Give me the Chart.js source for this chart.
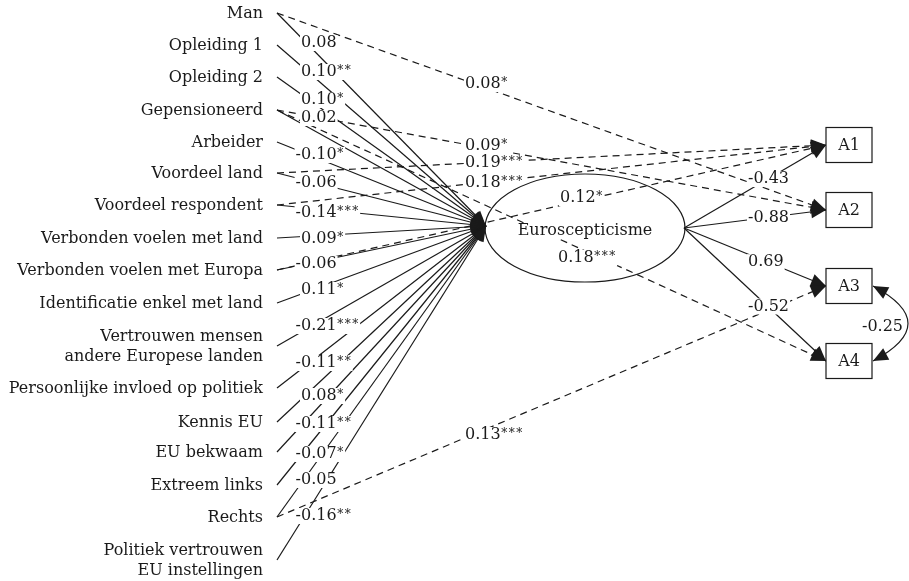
<!DOCTYPE html>
<html>
<head>
<meta charset="utf-8">
<script src="https://cdn.jsdelivr.net/npm/chart.js@4.4.1/dist/chart.umd.min.js"></script>
<style>html,body{margin:0;padding:0;background:#fff}</style>
</head>
<body>
<canvas id="c" width="909" height="581"></canvas>
<script>
// predictors -> Euroscepticisme
const predictors = ['Man','Opleiding 1','Opleiding 2','Gepensioneerd','Arbeider','Voordeel land','Voordeel respondent',
  'Verbonden voelen met land','Verbonden voelen met Europa','Identificatie enkel met land',
  'Vertrouwen mensen\nandere Europese landen','Persoonlijke invloed op politiek','Kennis EU','EU bekwaam',
  'Extreem links','Rechts','Politiek vertrouwen\nEU instellingen'];
const effects = [0.08,0.10,0.10,0.02,-0.10,-0.06,-0.14,0.09,-0.06,0.11,-0.21,-0.11,0.08,-0.11,-0.07,-0.05,-0.16];
const effectStars = ['','**','*','','*','','***','*','','*','***','**','*','**','*','','**'];

// latent factor and items
const latent = 'Euroscepticisme';
const items = ['A1','A2','A3','A4'];
const loadings = [-0.43,-0.88,0.69,-0.52];
const covPair = ['A3','A4'];
const covValue = -0.25;

// direct effects predictor -> item
const directFrom = ['Man','Gepensioneerd','Voordeel land','Voordeel respondent','Verbonden voelen met Europa','Gepensioneerd','Rechts'];
const directTo = ['A2','A2','A1','A1','A1','A4','A3'];
const directValues = [0.08,0.09,0.19,0.18,0.12,0.18,0.13];
const directStars = ['*','*','***','***','*','***','***'];

// layout (diagram units = pixels)
const predY = [13,45,77,110,142,173,205,238,270,303,346,388,422,452,485,517,560];
const predX = 277, nameRight = 263;
const effLabelY = [43,72,100,118,155,183,213,239,264,290,326,363,396,424,454,480,516];
const effLabelX = 301;
const ell = {x:585, y:228, rx:100, ry:54};
const tipIn = {x:486, y:226};
const tipOut = {x:684, y:228};
const itemY = [145,210,286,361];
const box = {x:826, w:46, h:35};
const directLabelPos = [[465,84],[465,146],[465,163],[465,183],[560,198],[558,258],[465,435]];
const loadLabelX = 748, loadT = 0.59;
const covLabel = [862,327];

const FONT = '16px "DejaVu Serif"';
const STAR_FONT = '12px "DejaVu Serif"';
const INK = '#1a1a1a';

function num(v){ return (v<0?'-':'') + Math.abs(v).toFixed(2); }

const datasets = [];
function edge(p, q, dashed){
  datasets.push({data:[p,q], showLine:true, borderColor:INK, borderWidth:1.2,
    borderDash: dashed ? [7,5] : [], pointRadius:0, fill:false, arrow:true});
}
predictors.forEach((p,i)=> edge({x:predX,y:predY[i]}, tipIn, false));
items.forEach((it,i)=> edge(tipOut, {x:box.x,y:itemY[i]}, false));
directFrom.forEach((f,i)=>{
  const a = predictors.indexOf(f), b = items.indexOf(directTo[i]);
  edge({x:predX,y:predY[a]}, {x:box.x,y:itemY[b]}, true);
});

function arrowHead(ctx, x1,y1,x2,y2, len, hw){
  const a = Math.atan2(y2-y1, x2-x1);
  ctx.beginPath();
  ctx.moveTo(x2,y2);
  ctx.lineTo(x2-len*Math.cos(a)+hw*Math.sin(a), y2-len*Math.sin(a)-hw*Math.cos(a));
  ctx.lineTo(x2-len*Math.cos(a)-hw*Math.sin(a), y2-len*Math.sin(a)+hw*Math.cos(a));
  ctx.closePath();
  ctx.fill();
}

// number plus small spaced stars, on a white patch
function coef(ctx, v, stars, x, y){
  ctx.font = FONT;
  const t = num(v);
  const w1 = ctx.measureText(t).width;
  ctx.font = STAR_FONT;
  const sw = ctx.measureText('*').width + 1.5;
  const w = w1 + (stars ? stars.length*sw : 0);
  ctx.fillStyle = '#fff';
  ctx.fillRect(x-1, y-8, w+2, 16);
  ctx.fillStyle = INK;
  ctx.textAlign = 'left';
  ctx.font = FONT;
  ctx.fillText(t, x, y);
  ctx.font = STAR_FONT;
  for(let k=0;k<(stars||'').length;k++) ctx.fillText('*', x+w1+0.5+k*sw, y-1);
  ctx.font = FONT;
}

const diagram = {
  id:'diagram',
  afterDatasetsDraw(chart){
    const ctx = chart.ctx, xs = chart.scales.x, ys = chart.scales.y;
    const X = v=>xs.getPixelForValue(v), Y = v=>ys.getPixelForValue(v);
    ctx.save();
    ctx.font = FONT;
    ctx.textBaseline = 'middle';
    ctx.fillStyle = INK;
    ctx.strokeStyle = INK;
    ctx.lineWidth = 1.2;

    // predictor names
    ctx.textAlign = 'right';
    predictors.forEach((p,i)=>{
      const lines = p.split('\n');
      lines.forEach((l,k)=> ctx.fillText(l, X(nameRight), Y(predY[i]+1+(k-(lines.length-1)/2)*20)));
    });

    // coefficient labels
    effects.forEach((v,i)=>{
      const off = v<0 ? ctx.measureText('-').width : 0;
      coef(ctx, v, effectStars[i], X(effLabelX)-off, Y(effLabelY[i]));
    });
    directValues.forEach((v,i)=>{
      coef(ctx, v, directStars[i], X(directLabelPos[i][0]), Y(directLabelPos[i][1]));
    });
    loadings.forEach((v,i)=>{
      const y = tipOut.y + (itemY[i]-tipOut.y)*loadT;
      coef(ctx, v, '', X(loadLabelX), Y(y));
    });

    // latent variable
    ctx.beginPath();
    ctx.ellipse(X(ell.x), Y(ell.y), ell.rx, ell.ry, 0, 0, Math.PI*2);
    ctx.stroke();
    const lw = ctx.measureText(latent).width;
    ctx.fillStyle = '#fff';
    ctx.fillRect(X(ell.x)-lw/2-1, Y(ell.y+3)-8, lw+2, 16);
    ctx.fillStyle = INK;
    ctx.textAlign = 'center';
    ctx.fillText(latent, X(ell.x), Y(ell.y+3));

    // item boxes
    items.forEach((it,i)=>{
      const x = X(box.x), y = Y(itemY[i]-box.h/2);
      ctx.fillStyle = '#fff';
      ctx.fillRect(x, y, box.w, box.h);
      ctx.strokeRect(x, y, box.w, box.h);
      ctx.fillStyle = INK;
      ctx.textAlign = 'center';
      ctx.fillText(it, x+box.w/2, Y(itemY[i]+1));
    });

    // residual covariance
    const a = items.indexOf(covPair[0]), b = items.indexOf(covPair[1]);
    const sx = X(box.x+box.w+1), y1 = Y(itemY[a]), y2 = Y(itemY[b]);
    const cx = sx+70, cy = (y1+y2)/2;
    ctx.beginPath();
    ctx.moveTo(sx, y1);
    ctx.quadraticCurveTo(cx, cy, sx, y2);
    ctx.stroke();
    arrowHead(ctx, cx, cy, sx, y1, 15, 6.5);
    arrowHead(ctx, cx, cy, sx, y2, 15, 6.5);
    ctx.textAlign = 'left';
    ctx.fillText(num(covValue), X(covLabel[0]), Y(covLabel[1]));

    // arrow heads on paths
    chart.data.datasets.forEach((ds)=>{
      if(!ds.arrow) return;
      const p = ds.data[0], q = ds.data[1];
      arrowHead(ctx, X(p.x), Y(p.y), X(q.x), Y(q.y), 15, 6.5);
    });
    ctx.restore();
  }
};

new Chart(document.getElementById('c'), {
  type:'scatter',
  data:{ datasets },
  options:{
    responsive:false,
    animation:false,
    events:[],
    layout:{ padding:0 },
    plugins:{ legend:{display:false}, tooltip:{enabled:false} },
    scales:{
      x:{ type:'linear', min:0, max:909, display:false },
      y:{ type:'linear', min:0, max:581, reverse:true, display:false }
    }
  },
  plugins:[diagram]
});
</script>
</body>
</html>
